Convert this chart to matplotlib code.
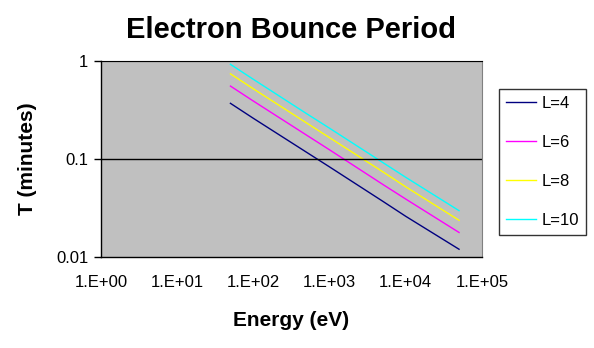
import matplotlib.pyplot as plt

# energies (eV) and bounce periods (minutes)
energy = [50, 100, 500, 1000, 5000, 10000, 50000]
t_L4 = [0.37, 0.26, 0.117, 0.083, 0.037, 0.026, 0.012]
t_L6 = [0.555, 0.39, 0.175, 0.124, 0.055, 0.039, 0.0178]
t_L8 = [0.74, 0.52, 0.233, 0.165, 0.074, 0.052, 0.0237]
t_L10 = [0.925, 0.65, 0.29, 0.206, 0.092, 0.065, 0.0297]

labels = ['L=4', 'L=6', 'L=8', 'L=10']
colors = ['#000080', '#ff00ff', '#ffff00', '#00ffff']

x_ticks = [1, 10, 100, 1000, 10000, 100000]
x_tick_labels = ['1.E+00', '1.E+01', '1.E+02', '1.E+03', '1.E+04', '1.E+05']
y_ticks = [0.01, 0.1, 1]
y_tick_labels = ['0.01', '0.1', '1']


def main():
    plt.rcParams['font.family'] = ['Liberation Sans', 'DejaVu Sans']
    fig = plt.figure(figsize=(5.94, 3.48), dpi=100)
    ax = fig.add_axes([0.170, 0.2615, 0.6414, 0.5632])
    ax.set_facecolor('#c0c0c0')

    series = [t_L4, t_L6, t_L8, t_L10]
    for vals, lab, col in zip(series, labels, colors):
        ax.plot(energy, vals, color=col, linewidth=1, label=lab)

    ax.set_xscale('log')
    ax.set_yscale('log')
    ax.set_xlim(1, 100000)
    ax.set_ylim(0.01, 1)
    ax.minorticks_off()
    ax.set_xticks(x_ticks, x_tick_labels, fontsize=12)
    ax.set_yticks(y_ticks, y_tick_labels, fontsize=12)
    ax.tick_params(axis='x', length=0, pad=13)
    ax.tick_params(axis='y', length=5, width=1, pad=4)

    ax.axhline(0.1, color='black', linewidth=1)
    ax.axhline(1, color='black', linewidth=1.5)
    for side in ['left', 'bottom']:
        ax.spines[side].set_color('black')
        ax.spines[side].set_linewidth(1)
    ax.spines['right'].set_color('#808080')
    ax.spines['top'].set_color('black')

    fig.suptitle('Electron Bounce Period', x=0.49, y=0.955,
                 fontsize=21, fontweight='bold')
    ax.set_xlabel('Energy (eV)', fontsize=15, fontweight='bold', labelpad=15)
    ax.set_ylabel('T (minutes)', fontsize=15, fontweight='bold', labelpad=14)

    leg = fig.legend(loc='upper left', bbox_to_anchor=(0.840, 0.744),
                     fontsize=12, frameon=True, fancybox=False,
                     handlelength=1.8, handletextpad=0.35,
                     labelspacing=1.45, borderpad=0.4, borderaxespad=0)
    leg.get_frame().set_edgecolor('black')
    leg.get_frame().set_linewidth(1)

    plt.savefig("out.png")


if __name__ == "__main__":
    main()
